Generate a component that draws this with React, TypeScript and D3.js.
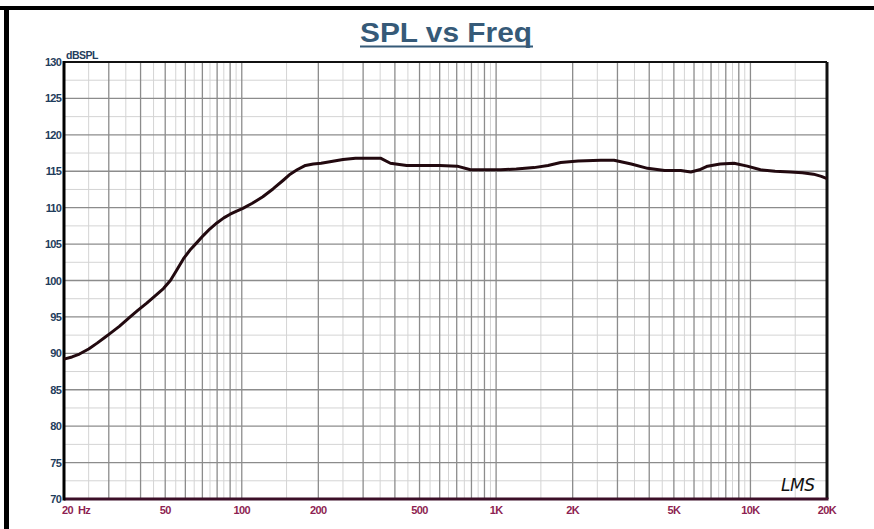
import React from 'react';
import * as d3 from 'd3';

const freqs = [20, 21.5, 23, 25, 27, 29, 30.3, 33, 36.4, 39, 42.3, 46, 49.2, 52.4, 55, 59, 63, 67, 70.7, 75, 79.8, 85, 90, 95, 101, 110, 121, 133, 146, 155, 165, 178, 191, 205, 222, 250, 280, 320, 351, 384, 445, 520, 600, 703, 793, 900, 1042, 1200, 1409, 1600, 1795, 2100, 2579, 2910, 3400, 3940, 4600, 5320, 5830, 6300, 6780, 7600, 8620, 9720, 10950, 12500, 14360, 16000, 17700, 19000, 20000];
const spl = [89.2, 89.5, 89.9, 90.6, 91.4, 92.2, 92.7, 93.7, 95.0, 95.9, 96.9, 98.0, 98.9, 100.0, 101.2, 103.0, 104.3, 105.3, 106.2, 107.1, 107.9, 108.6, 109.1, 109.5, 109.9, 110.6, 111.5, 112.6, 113.8, 114.6, 115.2, 115.8, 116.0, 116.1, 116.3, 116.6, 116.8, 116.8, 116.8, 116.1, 115.8, 115.8, 115.8, 115.7, 115.2, 115.2, 115.2, 115.3, 115.5, 115.8, 116.2, 116.4, 116.5, 116.5, 116.0, 115.4, 115.1, 115.1, 114.9, 115.2, 115.7, 116.0, 116.1, 115.7, 115.2, 115.0, 114.9, 114.8, 114.6, 114.3, 114.0];

const yTicks = [70, 75, 80, 85, 90, 95, 100, 105, 110, 115, 120, 125, 130];
const xTickLabels: [number, string][] = [
  [20, '20  Hz'], [50, '50'], [100, '100'], [200, '200'], [500, '500'],
  [1000, '1K'], [2000, '2K'], [5000, '5K'], [10000, '10K'], [20000, '20K'],
];

const W = 874;
const H = 529;
const plot = { left: 64, right: 827, top: 62, bottom: 499 };

export default function App() {
  const x = d3.scaleLog().domain([20, 20000]).range([plot.left, plot.right]);
  const y = d3.scaleLinear().domain([70, 130]).range([plot.bottom, plot.top]);

  const majorX: number[] = [];
  const minorX: number[] = [];
  [10, 100, 1000, 10000].forEach(dec => {
    for (let k = 1; k <= 9; k++) {
      const m = dec * k;
      const n = dec * (k + 0.5);
      if (m > 20 && m < 20000) majorX.push(m);
      if (n > 20 && n < 20000) minorX.push(n);
    }
  });
  const minorY = d3.range(72.5, 130, 5);

  const line = d3.line<number>()
    .x((d, i) => x(freqs[i]))
    .y(d => y(d))
    .curve(d3.curveLinear);

  return (
    <svg width={W} height={H} style={{ position: 'absolute', left: 0, top: 0, background: '#fff' }}>
      {/* outer window frame */}
      <rect x={0} y={6} width={W} height={4} fill="#000" />
      <rect x={4} y={6} width={5} height={H - 6} fill="#000" />

      <text x={360} y={42} textLength={172} lengthAdjust="spacingAndGlyphs" fontFamily="Liberation Sans, Arial"
        fontWeight="bold" fontSize={27} fill="#365a78">SPL vs Freq</text>
      <rect x={360} y={45.5} width={173} height={2} fill="#365a78" />

      {/* grid */}
      <g>
        {minorX.map(f => (
          <line key={'mx' + f} x1={x(f)} x2={x(f)} y1={plot.top} y2={plot.bottom} stroke="#d4d4d4" strokeWidth={1} />
        ))}
        {minorY.map(v => (
          <line key={'my' + v} x1={plot.left} x2={plot.right} y1={y(v)} y2={y(v)} stroke="#d4d4d4" strokeWidth={1} />
        ))}
        {majorX.map(f => (
          <line key={'Mx' + f} x1={x(f)} x2={x(f)} y1={plot.top} y2={plot.bottom} stroke="#8c8c8c" strokeWidth={1.3} />
        ))}
        {yTicks.slice(1, -1).map(v => (
          <line key={'My' + v} x1={plot.left} x2={plot.right} y1={y(v)} y2={y(v)} stroke="#8c8c8c" strokeWidth={1.3} />
        ))}
      </g>

      {/* plot border */}
      <line x1={plot.left} x2={plot.right} y1={plot.top} y2={plot.top} stroke="#111" strokeWidth={2} />
      <line x1={plot.right} x2={plot.right} y1={plot.top} y2={plot.bottom} stroke="#111" strokeWidth={3} />
      <line x1={plot.left} x2={plot.right + 1.5} y1={plot.bottom} y2={plot.bottom} stroke="#3c0f28" strokeWidth={3} />
      <line x1={plot.left} x2={plot.left} y1={plot.top - 1} y2={plot.bottom + 1.5} stroke="#000" strokeWidth={3} />

      {/* response curve */}
      <path d={line(spl) || ''} fill="none" stroke="#22090f" strokeWidth={3} strokeLinejoin="round" />

      {/* y labels */}
      {yTicks.map(v => (
        <text key={'yl' + v} x={plot.left - 3} y={y(v) + 4} textAnchor="end" fontFamily="Liberation Sans, Arial"
          fontWeight="bold" fontSize={11} fill="#1f3d5c" letterSpacing={-0.8}>{v}</text>
      ))}
      <text x={plot.left + 2} y={plot.top - 3} fontFamily="Liberation Sans, Arial" fontWeight="bold" fontSize={10.5}
        fill="#1f3d5c" letterSpacing={-0.5}>dBSPL</text>

      {/* x labels */}
      {xTickLabels.map(([f, s]) => (
        <text key={'xl' + f} x={f === 20 ? plot.left - 2 : x(f)} y={514} textAnchor={f === 20 ? 'start' : 'middle'}
          fontFamily="Liberation Sans, Arial" fontWeight="bold" fontSize={11} fill="#8e1f52"
          letterSpacing={-0.6} style={{ whiteSpace: 'pre' }}>{s}</text>
      ))}

      <text x={781} y={491} fontFamily="DejaVu Sans, sans-serif" fontStyle="italic" fontSize={17}
        fill="#111" letterSpacing={-0.5}>LMS</text>
    </svg>
  );
}
